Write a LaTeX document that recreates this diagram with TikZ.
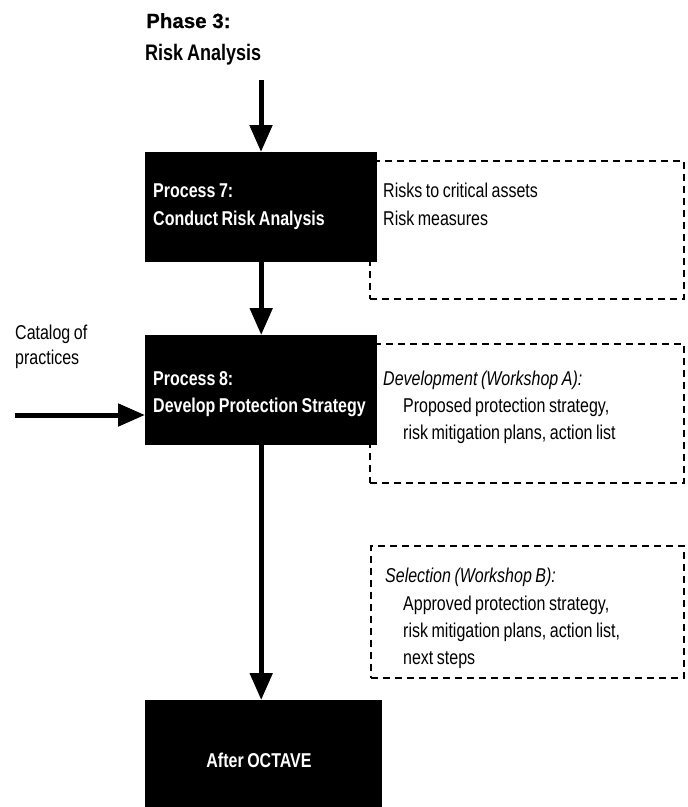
\documentclass[tikz,border=0pt]{standalone}
\usepackage{fontspec}
\setmainfont[FakeStretch=0.8,WordSpace=0.8]{Liberation Sans}
\newfontfamily\widefont[FakeBold=0.6]{Liberation Sans}
\usetikzlibrary{arrows.meta}
\tikzset{
  blackbox/.style={fill=black, draw=none, anchor=north west, inner sep=0pt},
  wtxt/.style={anchor=base west, inner sep=0pt, text=white, font=\fontsize{20}{27}\selectfont\bfseries},
  dashbox/.style={draw=black, line width=1.8pt, dash pattern=on 7pt off 5pt, anchor=north west, inner sep=0pt},
  txt/.style={anchor=base west, inner sep=0pt, font=\fontsize{20}{27}\selectfont},
  itxt/.style={txt, font=\fontsize{20}{27}\selectfont\itshape},
  arr/.style={line width=5pt, -{Triangle[width=22pt,length=27pt]}},
}
\begin{document}
\begin{tikzpicture}[x=1pt,y=-1pt]
\useasboundingbox (0,0) rectangle (688,807);
% titles
\node[txt, font=\fontsize{20.5}{27}\widefont\bfseries] (ph) at (146,28) {Phase 3:};
\node[txt, font=\fontsize{22.5}{27}\selectfont\bfseries] (ra) at (145,60) {Risk Analysis};
% dashed boxes
\node[dashbox, minimum width=314pt, minimum height=138pt] (d1) at (369,160) {};
\node[dashbox, minimum width=314pt, minimum height=139pt] (d2) at (369,343) {};
\node[dashbox, minimum width=313pt, minimum height=132pt] (d3) at (370,545) {};
% black boxes
\node[blackbox, minimum width=232pt, minimum height=110pt] (p7) at (145,152) {};
\node[blackbox, minimum width=232pt, minimum height=110pt] (p8) at (145,335) {};
\node[blackbox, minimum width=237pt, minimum height=110pt] (ao) at (145,700) {};
% texts in black boxes
\node[wtxt] (p7a) at (153,197) {Process 7:};
\node[wtxt] (p7b) at (153,225) {Conduct Risk Analysis};
\node[wtxt] (p8a) at (153,385) {Process 8:};
\node[wtxt] (p8b) at (153,412) {Develop Protection Strategy};
\node[wtxt, anchor=base] (aot) at (259,767) {After OCTAVE};
% texts in dashed boxes
\node[txt] (t11) at (383,197) {Risks to critical assets};
\node[txt] (t12) at (383,225) {Risk measures};
\node[itxt] (t21) at (383,385) {Development (Workshop A):};
\node[txt] (t22) at (403,412) {Proposed protection strategy,};
\node[txt] (t23) at (403,439) {risk mitigation plans, action list};
\node[itxt] (t31) at (385,582) {Selection (Workshop B):};
\node[txt] (t32) at (403,610) {Approved protection strategy,};
\node[txt] (t33) at (403,637) {risk mitigation plans, action list,};
\node[txt] (t34) at (403,664) {next steps};
% catalog
\node[txt] (c1) at (15,339) {Catalog of};
\node[txt] (c2) at (15,364) {practices};
% arrows
\coordinate (a0) at (261,80);
\coordinate (c0) at (15,415);
\draw[arr] (a0) -- (a0 |- p7.north);
\draw[arr] (p7.south) -- (p7.south |- p8.north);
\draw[arr] (p8.south) -- (p8.south |- ao.north);
\draw[arr] (c0) -- (c0 -| p8.west);
\end{tikzpicture}
\end{document}
